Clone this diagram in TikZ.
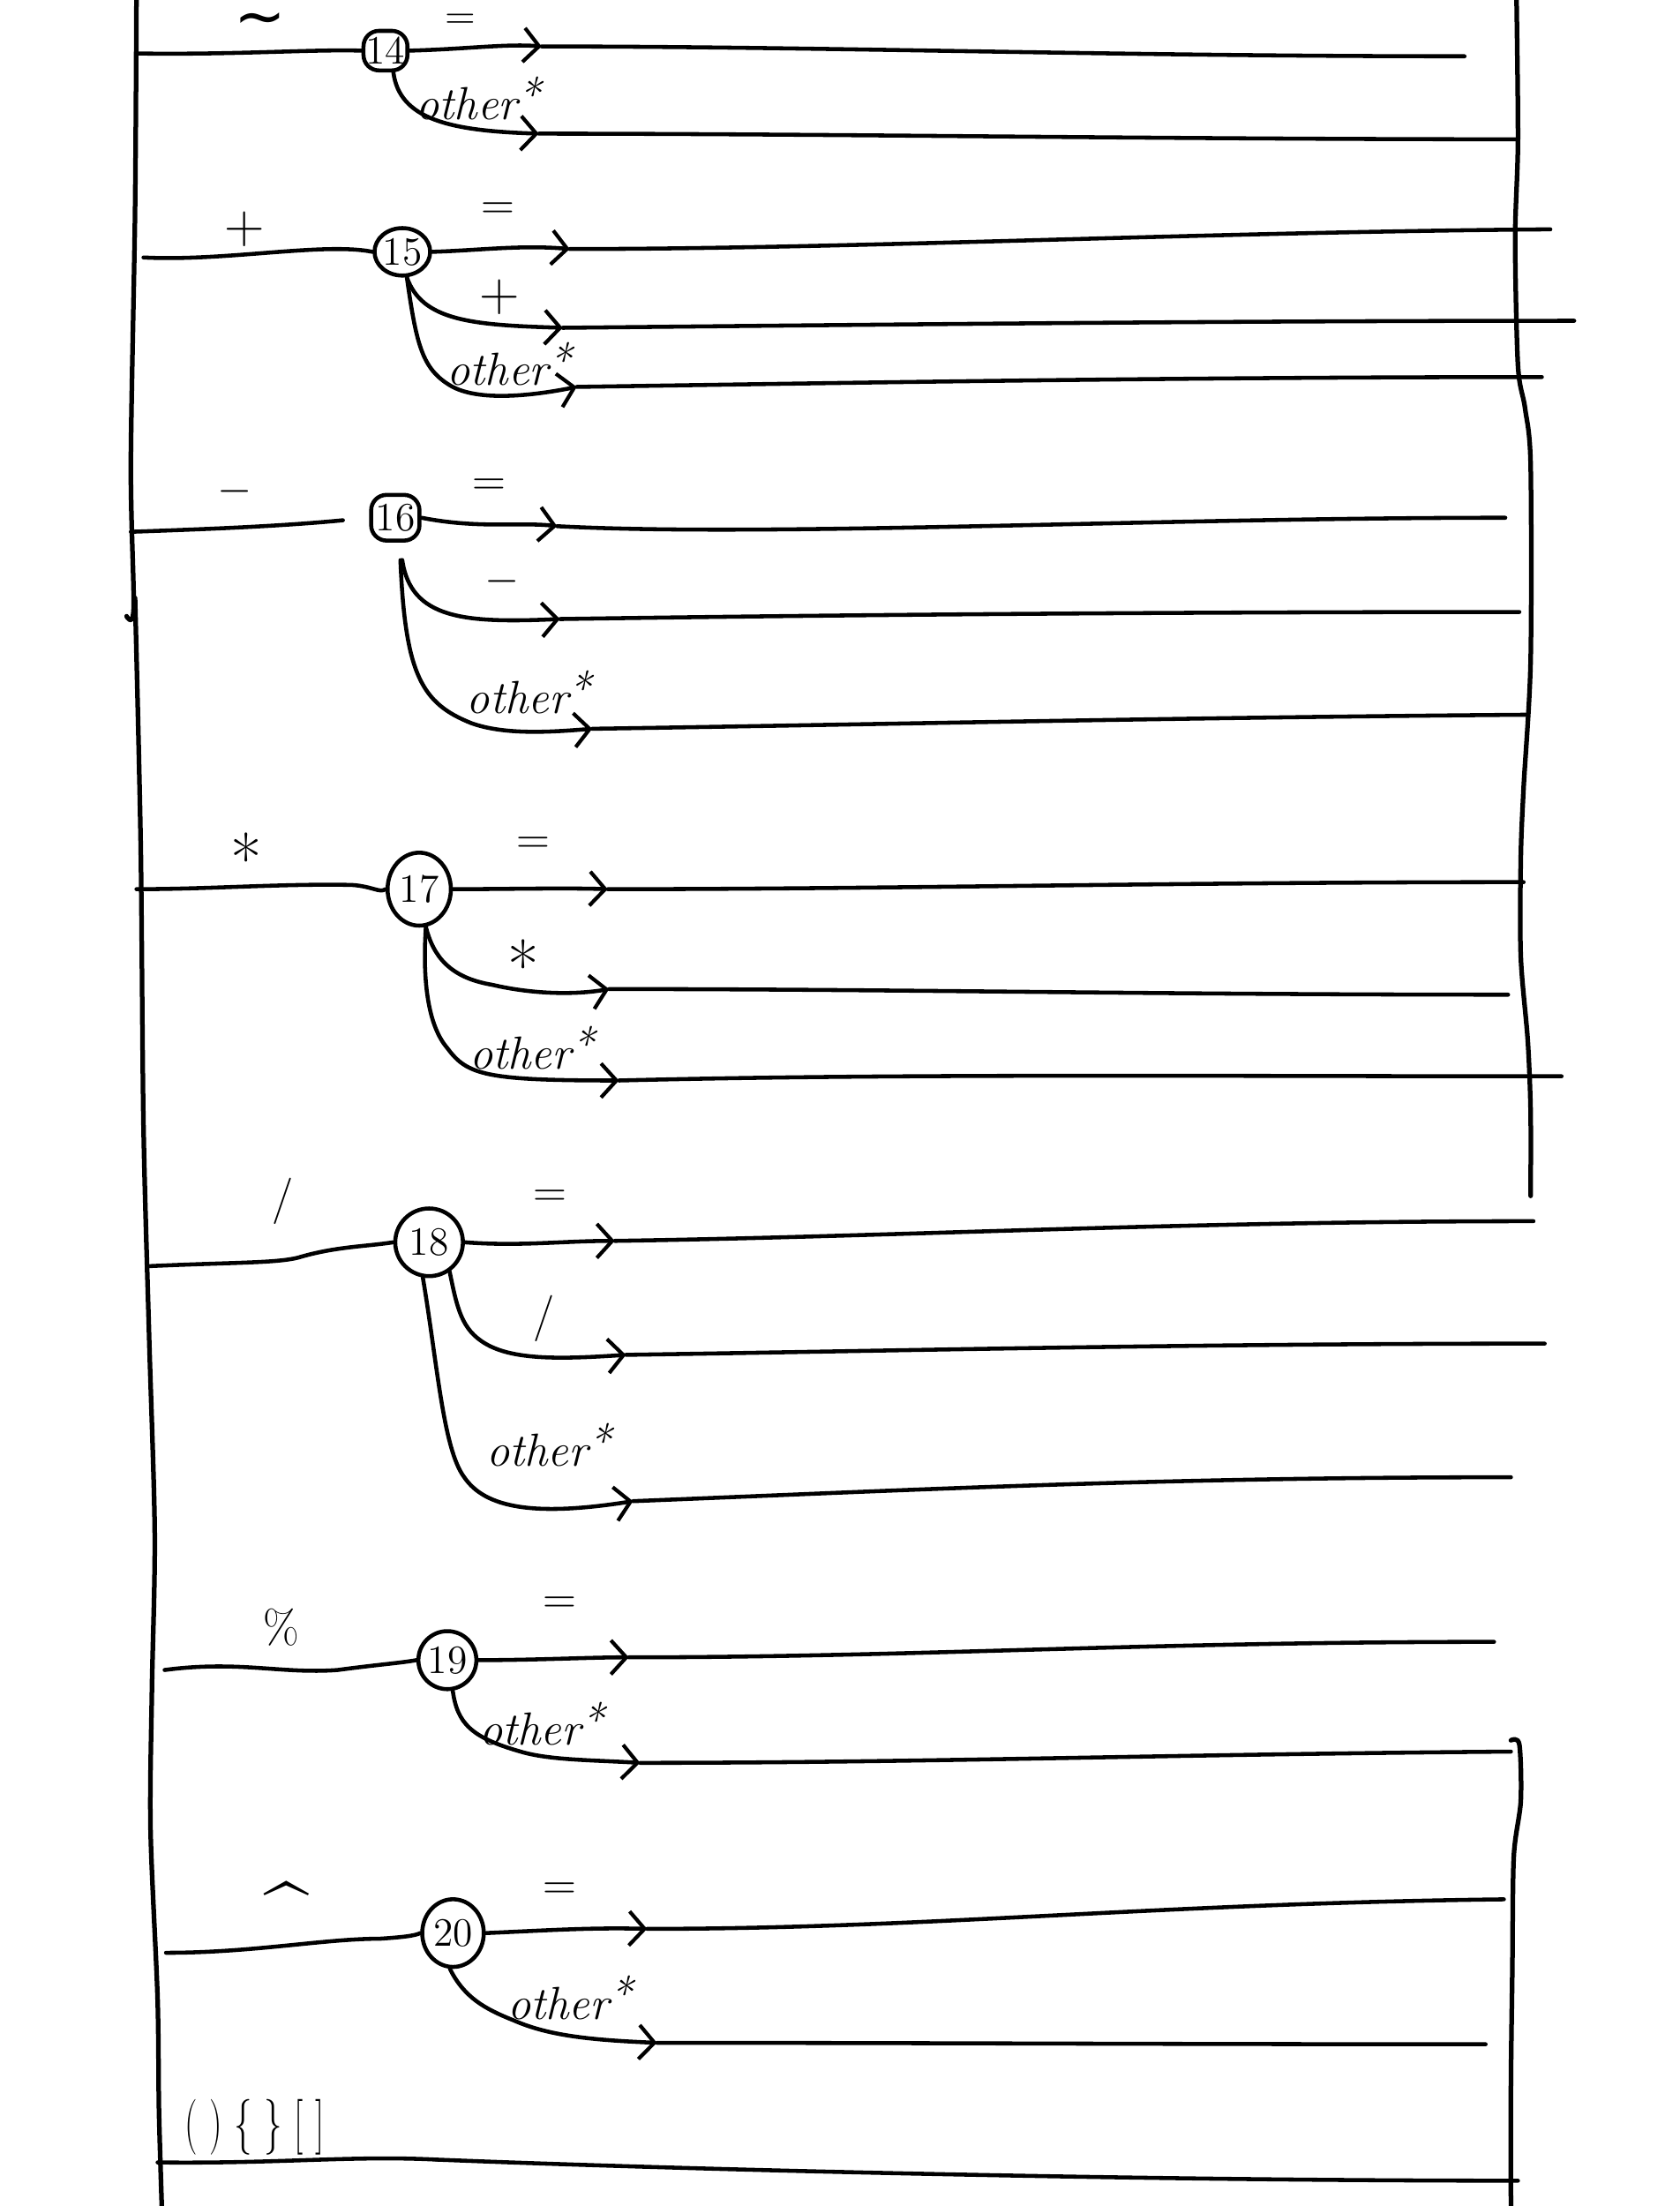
\documentclass[tikz,border=0pt]{standalone}
\usepackage{graphicx}
\usepackage{fontspec}
\newfontfamily\dejavu{DejaVu Sans}
\usetikzlibrary{arrows.meta,shapes.geometric}
\begin{document}
\begin{tikzpicture}[x=0.016cm,y=-0.016cm,
  line cap=round, line join=round,
  ln/.style={line width=1.3pt},
  frame/.style={line width=1.5pt},
  arr/.style={line width=1.3pt, -{Straight Barb[length=5pt,width=11pt,line width=1.2pt]}},
  lbl/.style={inner sep=0pt, font=\fontsize{15}{15}\selectfont},
  oth/.style={inner sep=0pt, font=\itshape\fontsize{15}{15}\selectfont},
  sq/.style={draw, line width=1.3pt, rounded corners=5pt, inner sep=0pt, font=\fontsize{13}{13}\selectfont},
  circ/.style={draw, ellipse, line width=1.3pt, inner sep=0pt, font=\fontsize{13}{13}\selectfont},
]
\useasboundingbox (0,0) rectangle (1194,1568);

% frames
\draw[frame] plot[smooth] coordinates {(97,0) (96,150) (93,330) (95,432) (90,438)};
\draw[frame] plot[smooth] coordinates {(96,425) (100,600) (102,800) (106,950) (110,1090) (108,1200) (107,1300) (112,1420) (113,1500) (115,1568)};
\draw[frame] plot[smooth] coordinates {(1078,0) (1079,100) (1077,170) (1079,260) (1084,290) (1088,330) (1088,470) (1083,560) (1081,610) (1081,680) (1086,740) (1088,790) (1088,850)};
\draw[frame] plot[smooth] coordinates {(1074,1237) (1080,1240) (1081,1280) (1076,1320) (1075,1400) (1074,1480) (1074,1568)};

% ---- 14 ----
\node[sq, minimum width=0.5cm, minimum height=0.45cm] (n14) at (274,36) {14};
\node[lbl, font=\dejavu\fontsize{20}{20}\selectfont] (l14a) at (185,18) {\textasciitilde};
\coordinate (s14) at (97,38);
\draw[ln] (s14) .. controls (170,39) and (220,35) .. (n14.west);
\node[lbl, font=\fontsize{13}{13}\selectfont] (l14b) at (327,15) {=};
\coordinate (a14b) at (385,33);
\coordinate (e14b) at (1041,40);
\draw[arr] (n14.east) .. controls (330,35) and (360,31) .. (a14b);
\draw[ln] (a14b) .. controls +(200,0) and +(-250,0) .. (e14b);
\node[oth] (l14c) at (340,70) {other\raisebox{0.4ex}{*}};
\coordinate (a14c) at (383,95);
\coordinate (e14c) at (1079,99);
\draw[arr] (n14.-70) .. controls (284,85) and (320,93) .. (a14c);
\draw[ln] (a14c) .. controls +(200,0) and +(-250,0) .. (e14c);

% ---- 15 ----
\node[circ, minimum width=0.48cm, minimum height=0.54cm] (n15) at (286,179) {15};
\node[lbl, font=\fontsize{18}{18}\selectfont] (l15a) at (174,163) {+};
\coordinate (s15) at (102,183);
\draw[ln] (s15) .. controls (160,186) and (230,172) .. (n15.west);
\node[lbl] (l15b) at (354,150) {=};
\coordinate (a15b) at (405,177);
\coordinate (e15b) at (1102,163);
\draw[arr] (n15.east) .. controls (340,178) and (370,174) .. (a15b);
\draw[ln] (a15b) .. controls +(200,0) and +(-250,2) .. (e15b);
\node[lbl, font=\fontsize{18}{18}\selectfont] (l15c) at (355,211) {+};
\coordinate (a15c) at (400,233);
\coordinate (e15c) at (1119,228);
\draw[arr] (n15.-80) .. controls (300,228) and (335,231) .. (a15c);
\draw[ln] (a15c) .. controls +(200,-2) and +(-250,0) .. (e15c);
\node[oth] (l15d) at (362,259) {other\raisebox{0.4ex}{*}};
\coordinate (a15d) at (410,275);
\coordinate (e15d) at (1096,268);
\draw[arr] (n15.-80) .. controls (296,245) and (300,262) .. (320,274) .. controls (340,286) and (380,281) .. (a15d);
\draw[ln] (a15d) .. controls +(200,-3) and +(-250,0) .. (e15d);

% ---- 16 ----
\node[sq, minimum width=0.55cm, minimum height=0.52cm] (n16) at (281,368) {16};
\node[lbl] (l16a) at (167,349) {$-$};
\coordinate (s16) at (93,378);
\draw[ln, shorten >=0.3cm] (s16) .. controls (150,376) and (200,374) .. (n16.west);
\node[lbl] (l16b) at (348,346) {=};
\coordinate (a16b) at (396,374);
\coordinate (e16b) at (1070,368);
\draw[arr] (n16.east) .. controls (340,376) and (370,371) .. (a16b);
\draw[ln] (a16b) .. controls +(150,8) and +(-250,0) .. (e16b);
\node[lbl] (l16c) at (357,413) {$-$};
\coordinate (a16c) at (398,440);
\coordinate (e16c) at (1080,435);
\draw[arr, shorten <=0.2cm] (n16.-80) .. controls (292,440) and (330,443) .. (a16c);
\draw[ln] (a16c) .. controls +(200,-3) and +(-250,0) .. (e16c);
\node[oth] (l16d) at (376,492) {other\raisebox{0.4ex}{*}};
\coordinate (a16d) at (421,518);
\coordinate (e16d) at (1086,508);
\draw[arr, shorten <=0.2cm] (n16.-80) .. controls (288,480) and (300,500) .. (335,514) .. controls (360,523) and (395,520) .. (a16d);
\draw[ln] (a16d) .. controls +(200,-3) and +(-250,2) .. (e16d);

% ---- 17 ----
\node[circ, minimum width=0.72cm, minimum height=0.83cm] (n17) at (298,632) {17};
\node[lbl, font=\fontsize{22}{22}\selectfont] (l17a) at (175,610) {*};
\coordinate (s17) at (97,632);
\draw[ln] (s17) .. controls (150,632) and (200,628) .. (250,629) .. controls (265,630) and (270,635) .. (n17.west);
\node[lbl] (l17b) at (379,601) {=};
\coordinate (a17b) at (432,632);
\coordinate (e17b) at (1083,627);
\draw[arr] (n17.east) .. controls (360,632) and (400,631) .. (a17b);
\draw[ln] (a17b) .. controls +(200,0) and +(-250,0) .. (e17b);
\node[lbl, font=\fontsize{22}{22}\selectfont] (l17c) at (372,686) {*};
\coordinate (a17c) at (433,703);
\coordinate (e17c) at (1072,707);
\draw[arr] (n17.-80) .. controls (308,680) and (320,695) .. (350,700) .. controls (380,707) and (410,707) .. (a17c);
\draw[ln] (a17c) .. controls +(200,0) and +(-250,0) .. (e17c);
\node[oth] (l17d) at (378,745) {other\raisebox{0.4ex}{*}};
\coordinate (a17d) at (440,768);
\coordinate (e17d) at (1110,765);
\draw[arr] (n17.-80) .. controls (300,700) and (305,730) .. (318,745) .. controls (332,764) and (345,768) .. (a17d);
\draw[ln] (a17d) .. controls +(200,-5) and +(-250,0) .. (e17d);

% ---- 18 ----
\node[circ, minimum width=0.77cm, minimum height=0.77cm] (n18) at (305,883) {18};
\node[lbl] (l18a) at (201,854) {/};
\coordinate (s18) at (105,900);
\draw[ln] (s18) .. controls (170,897) and (200,898) .. (215,893) .. controls (240,886) and (260,886) .. (n18.west);
\node[lbl] (l18b) at (391,852) {=};
\coordinate (a18b) at (437,882);
\coordinate (e18b) at (1090,868);
\draw[arr] (n18.east) .. controls (370,886) and (400,882) .. (a18b);
\draw[ln] (a18b) .. controls +(200,-3) and +(-250,0) .. (e18b);
\node[lbl] (l18c) at (387,937) {/};
\coordinate (a18c) at (445,963);
\coordinate (e18c) at (1098,955);
\draw[arr] (n18.-55) .. controls (325,930) and (328,945) .. (345,955) .. controls (365,967) and (400,966) .. (a18c);
\draw[ln] (a18c) .. controls +(200,-3) and +(-250,0) .. (e18c);
\node[oth] (l18d) at (390,1027) {other\raisebox{0.4ex}{*}};
\coordinate (a18d) at (450,1067);
\coordinate (e18d) at (1074,1050);
\draw[arr] (n18.-100) .. controls (311,970) and (315,1030) .. (330,1050) .. controls (345,1072) and (380,1078) .. (a18d);
\draw[ln] (a18d) .. controls +(200,-8) and +(-250,0) .. (e18d);

% ---- 19 ----
\node[circ, minimum width=0.66cm, minimum height=0.66cm] (n19) at (318,1180) {19};
\node[lbl] (l19a) at (200,1157) {\%};
\coordinate (s19) at (117,1187);
\draw[ln] (s19) .. controls (170,1180) and (200,1190) .. (240,1187) .. controls (270,1183) and (285,1182) .. (n19.west);
\node[lbl] (l19b) at (398,1141) {=};
\coordinate (a19b) at (447,1178);
\coordinate (e19b) at (1062,1167);
\draw[arr] (n19.east) .. controls (380,1180) and (420,1178) .. (a19b);
\draw[ln] (a19b) .. controls +(200,0) and +(-250,0) .. (e19b);
\node[oth] (l19c) at (385,1225) {other\raisebox{0.4ex}{*}};
\coordinate (a19c) at (455,1253);
\coordinate (e19c) at (1074,1245);
\draw[arr] (n19.-80) .. controls (325,1225) and (335,1235) .. (370,1245) .. controls (390,1251) and (420,1251) .. (a19c);
\draw[ln] (a19c) .. controls +(200,0) and +(-250,2) .. (e19c);

% ---- 20 ----
\node[circ, minimum width=0.7cm, minimum height=0.77cm] (n20) at (322,1374) {20};
\node[lbl, font=\fontsize{26}{26}\selectfont] (l20a) at (204,1358) {\textasciicircum};
\coordinate (s20) at (118,1388);
\draw[ln] (s20) .. controls (180,1388) and (230,1378) .. (270,1378) .. controls (285,1377) and (295,1376) .. (n20.west);
\node[lbl] (l20b) at (398,1344) {=};
\coordinate (a20b) at (460,1371);
\coordinate (e20b) at (1069,1350);
\draw[arr] (n20.east) .. controls (390,1372) and (420,1370) .. (a20b);
\draw[ln] (a20b) .. controls +(200,0) and +(-250,3) .. (e20b);
\node[oth] (l20c) at (405,1420) {other\raisebox{0.4ex}{*}};
\coordinate (a20c) at (467,1452);
\coordinate (e20c) at (1056,1453);
\draw[arr] (n20.-95) .. controls (330,1420) and (345,1428) .. (365,1436) .. controls (390,1447) and (420,1450) .. (a20c);
\draw[ln] (a20c) .. controls +(200,0) and +(-250,0) .. (e20c);

% ---- brackets ----
\node[lbl, font=\fontsize{18}{18}\selectfont] (lb) at (181,1512) {\scalebox{0.65}[1]{(\hspace{6pt})\hspace{6pt}\{\hspace{6pt}\}\hspace{6pt}[\hspace{6pt}]}};
\coordinate (sb) at (112,1537);
\coordinate (mb) at (310,1535);
\coordinate (eb) at (1079,1550);
\draw[ln] (sb) .. controls (200,1538) and (250,1532) .. (mb);
\draw[ln] (mb) .. controls +(200,8) and +(-250,0) .. (eb);
\end{tikzpicture}
\end{document}
